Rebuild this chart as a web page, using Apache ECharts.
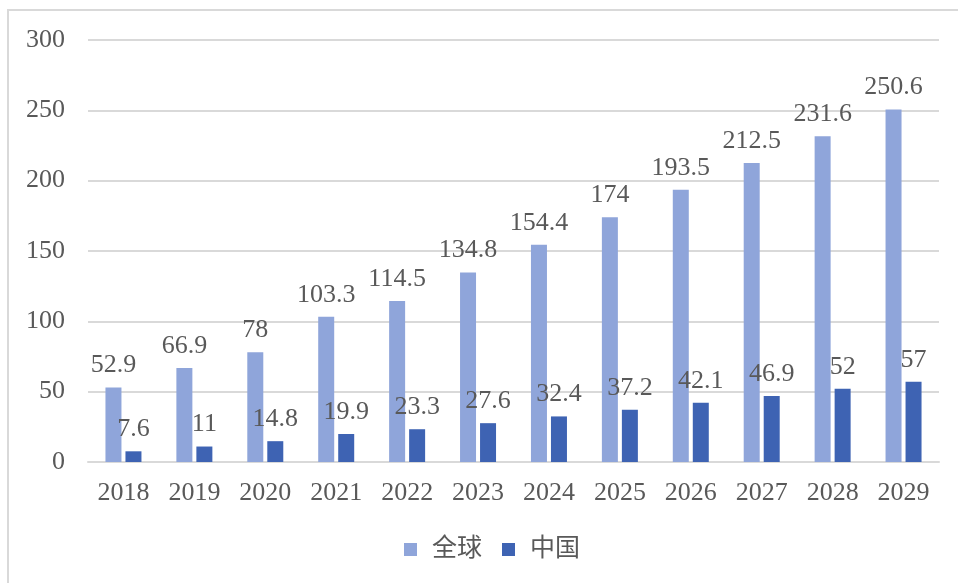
<!DOCTYPE html>
<html lang="zh">
<head>
    <meta charset="UTF-8">
    <title>全球与中国</title>
    <script src="https://cdn.jsdelivr.net/npm/echarts@6/dist/echarts.min.js"></script>
    <style>
        body {
            margin: 0;
            background-color: #ffffff;
        }
        #main {
            width: 958px;
            height: 583px;
        }
        /* 外框只有上边和左边 */
        .frame {
            position: absolute;
            left: 7px;
            top: 9px;
            right: 0;
            bottom: 0;
            border-top: 2px solid #d9d9d9;
            border-left: 2px solid #d9d9d9;
            pointer-events: none;
        }
    </style>
</head>
<body>
<div id="main"></div>
<div class="frame"></div>
<script>
    var years = ['2018', '2019', '2020', '2021', '2022', '2023', '2024', '2025', '2026', '2027', '2028', '2029'];
    var globalData = [52.9, 66.9, 78, 103.3, 114.5, 134.8, 154.4, 174, 193.5, 212.5, 231.6, 250.6];
    var chinaData = [7.6, 11, 14.8, 19.9, 23.3, 27.6, 32.4, 37.2, 42.1, 46.9, 52, 57];
    var seriesNames = ['全球', '中国'];

    var fontFamily = "'Liberation Serif', 'Noto Sans CJK SC', serif";
    var textColor = '#595959';

    var chart = echarts.init(document.getElementById('main'));

    var labelStyle = {
        show: true,
        position: 'top',
        distance: 9,
        color: textColor,
        fontSize: 26,
        fontFamily: fontFamily
    };

    var option = {
        backgroundColor: '#ffffff',
        animation: false,
        grid: {
            left: 88,
            right: 19,
            top: 40,
            bottom: 121
        },
        legend: {
            data: seriesNames,
            bottom: 16,
            left: 399,
            icon: 'rect',
            itemWidth: 13,
            itemHeight: 13,
            itemGap: 20,
            textStyle: {
                color: textColor,
                fontSize: 25,
                fontFamily: fontFamily,
                padding: [0, 0, 0, 10]
            }
        },
        xAxis: {
            type: 'category',
            data: years,
            axisLine: { show: true, lineStyle: { color: '#d9d9d9', width: 2 } },
            axisTick: { show: false },
            axisLabel: {
                color: textColor,
                fontSize: 26,
                fontFamily: fontFamily,
                margin: 18
            }
        },
        yAxis: {
            type: 'value',
            min: 0,
            max: 300,
            interval: 50,
            axisLine: { show: false },
            axisTick: { show: false },
            splitLine: { lineStyle: { color: '#d9d9d9', width: 2 } },
            axisLabel: {
                color: textColor,
                fontSize: 26,
                fontFamily: fontFamily,
                margin: 23
            }
        },
        series: [
            {
                name: seriesNames[0],
                type: 'bar',
                data: globalData,
                barWidth: 16,
                barGap: '25%',
                itemStyle: { color: '#8fa5da' },
                label: labelStyle
            },
            {
                name: seriesNames[1],
                type: 'bar',
                data: chinaData,
                barWidth: 16,
                itemStyle: { color: '#3e63b3' },
                label: labelStyle
            }
        ]
    };

    chart.setOption(option);
</script>
</body>
</html>
